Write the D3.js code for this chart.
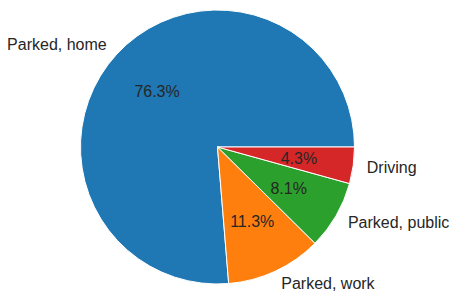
<!DOCTYPE html>
<html>
<head>
<meta charset="utf-8">
<script src="https://cdn.jsdelivr.net/npm/d3@7"></script>
<style>
  html, body { margin: 0; padding: 0; background: #ffffff; }
  svg { display: block; }
  text { font-family: "Liberation Sans", Arial, sans-serif; fill: #262626; }
</style>
</head>
<body>
<svg id="chart" width="452" height="294"></svg>
<script>
const categories = ["Parked, home", "Parked, work", "Parked, public", "Driving"];
const values = [76.3, 11.3, 8.1, 4.3];
const colors = ["#1f77b4", "#ff7f0e", "#2ca02c", "#d62728"];

const width = 452, height = 294;
const cx = 217.5, cy = 147, r = 137;

const svg = d3.select("#chart");
const g = svg.append("g").attr("transform", `translate(${cx},${cy})`);

const data = categories.map((c, i) => ({ label: c, value: values[i], color: colors[i] }));

// matplotlib style: start at 3 o'clock, counter-clockwise
const pie = d3.pie().sort(null).value(d => d.value)
  .startAngle(Math.PI / 2).endAngle(Math.PI / 2 - 2 * Math.PI);
const arcs = pie(data);

const arc = d3.arc().innerRadius(0).outerRadius(r);
const labelArc = d3.arc().innerRadius(r * 1.1).outerRadius(r * 1.1);
const pctArc = d3.arc().innerRadius(r * 0.6).outerRadius(r * 0.6);

g.selectAll("path.slice").data(arcs).enter().append("path")
  .attr("class", "slice")
  .attr("d", arc)
  .attr("fill", d => d.data.color)
  .attr("stroke", "#ffffff")
  .attr("stroke-width", 1)
  .attr("stroke-linejoin", "round");

g.selectAll("text.lbl").data(arcs).enter().append("text")
  .attr("class", "lbl")
  .attr("x", d => labelArc.centroid(d)[0])
  .attr("y", d => labelArc.centroid(d)[1])
  .attr("text-anchor", d => labelArc.centroid(d)[0] > 0 ? "start" : "end")
  .attr("dominant-baseline", "central")
  .attr("font-size", 16)
  .text(d => d.data.label);

g.selectAll("text.pct").data(arcs).enter().append("text")
  .attr("class", "pct")
  .attr("x", d => pctArc.centroid(d)[0])
  .attr("y", d => pctArc.centroid(d)[1])
  .attr("text-anchor", "middle")
  .attr("dominant-baseline", "central")
  .attr("font-size", 16)
  .text(d => d3.format(".1f")(d.data.value) + "%");
</script>
</body>
</html>
